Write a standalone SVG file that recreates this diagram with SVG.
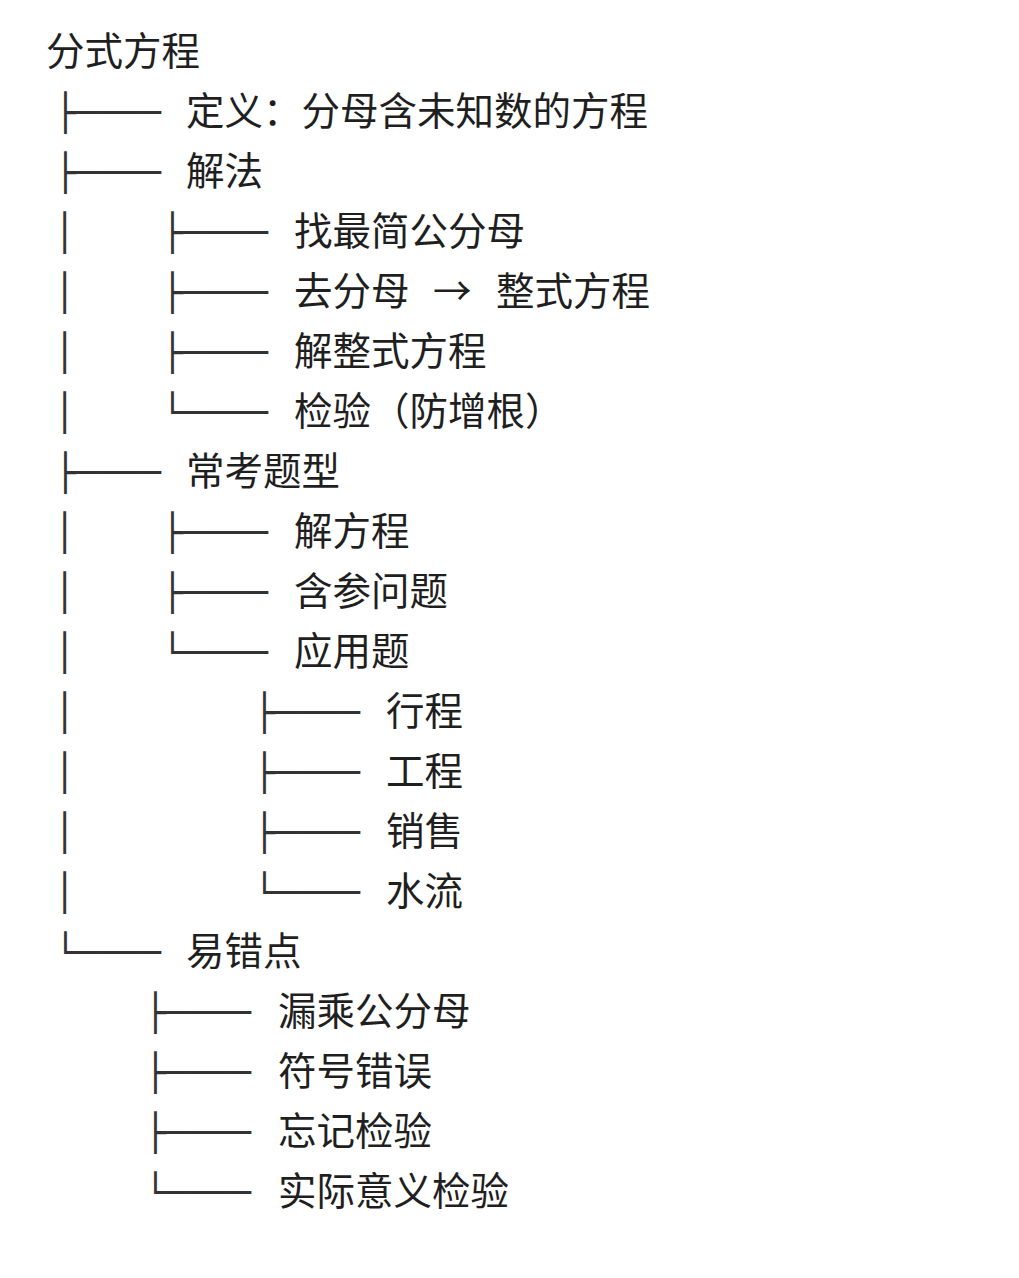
<svg xmlns="http://www.w3.org/2000/svg" width="1019" height="1278" viewBox="0 0 1019 1278">
<style>
.t{font-family:"Noto Sans CJK SC","Noto Sans",sans-serif;font-size:38.5px;fill:#1f1f1f}
.b{font-family:"DejaVu Sans Mono",monospace;font-size:36px;fill:#333}
</style>
<rect width="1019" height="1278" fill="#ffffff"/>
<g id="connectors">
<text class="b" x="55" y="125" textLength="106" lengthAdjust="spacingAndGlyphs">├────</text>
<text class="b" x="55" y="185" textLength="106" lengthAdjust="spacingAndGlyphs">├────</text>
<text class="b" x="55" y="485" textLength="106" lengthAdjust="spacingAndGlyphs">├────</text>
<text class="b" x="55" y="965" textLength="106" lengthAdjust="spacingAndGlyphs">└────</text>
<text class="b" x="54" y="245">│</text><text class="b" x="54" y="305">│</text><text class="b" x="54" y="365">│</text><text class="b" x="54" y="425">│</text>
<text class="b" x="54" y="545">│</text><text class="b" x="54" y="605">│</text><text class="b" x="54" y="665">│</text><text class="b" x="54" y="725">│</text>
<text class="b" x="54" y="785">│</text><text class="b" x="54" y="845">│</text><text class="b" x="54" y="905">│</text>
<text class="b" x="162" y="245" textLength="106" lengthAdjust="spacingAndGlyphs">├────</text>
<text class="b" x="162" y="305" textLength="106" lengthAdjust="spacingAndGlyphs">├────</text>
<text class="b" x="162" y="365" textLength="106" lengthAdjust="spacingAndGlyphs">├────</text>
<text class="b" x="162" y="425" textLength="106" lengthAdjust="spacingAndGlyphs">└────</text>
<text class="b" x="162" y="545" textLength="106" lengthAdjust="spacingAndGlyphs">├────</text>
<text class="b" x="162" y="605" textLength="106" lengthAdjust="spacingAndGlyphs">├────</text>
<text class="b" x="162" y="665" textLength="106" lengthAdjust="spacingAndGlyphs">└────</text>
<text class="b" x="254" y="725" textLength="106" lengthAdjust="spacingAndGlyphs">├────</text>
<text class="b" x="254" y="785" textLength="106" lengthAdjust="spacingAndGlyphs">├────</text>
<text class="b" x="254" y="845" textLength="106" lengthAdjust="spacingAndGlyphs">├────</text>
<text class="b" x="254" y="905" textLength="106" lengthAdjust="spacingAndGlyphs">└────</text>
<text class="b" x="145" y="1025" textLength="106" lengthAdjust="spacingAndGlyphs">├────</text>
<text class="b" x="145" y="1085" textLength="106" lengthAdjust="spacingAndGlyphs">├────</text>
<text class="b" x="145" y="1145" textLength="106" lengthAdjust="spacingAndGlyphs">├────</text>
<text class="b" x="145" y="1205" textLength="106" lengthAdjust="spacingAndGlyphs">└────</text>
</g>
<g id="root"><text class="t" x="46" y="65">分式方程</text></g>
<g id="n1"><text class="t" x="186" y="125">定义：分母含未知数的方程</text></g>
<g id="n2"><text class="t" x="186" y="185">解法</text></g>
<g id="n21"><text class="t" x="294" y="245">找最简公分母</text></g>
<g id="n22"><text class="t" x="294" y="305">去分母</text><text class="t" x="433" y="305">→</text><text class="t" x="496" y="305">整式方程</text></g>
<g id="n23"><text class="t" x="294" y="365">解整式方程</text></g>
<g id="n24"><text class="t" x="294" y="425">检验（防增根）</text></g>
<g id="n3"><text class="t" x="186" y="485">常考题型</text></g>
<g id="n31"><text class="t" x="294" y="545">解方程</text></g>
<g id="n32"><text class="t" x="294" y="605">含参问题</text></g>
<g id="n33"><text class="t" x="294" y="665">应用题</text></g>
<g id="n331"><text class="t" x="386" y="725">行程</text></g>
<g id="n332"><text class="t" x="386" y="785">工程</text></g>
<g id="n333"><text class="t" x="386" y="845">销售</text></g>
<g id="n334"><text class="t" x="386" y="905">水流</text></g>
<g id="n4"><text class="t" x="186" y="965">易错点</text></g>
<g id="n41"><text class="t" x="278" y="1025">漏乘公分母</text></g>
<g id="n42"><text class="t" x="278" y="1085">符号错误</text></g>
<g id="n43"><text class="t" x="278" y="1145">忘记检验</text></g>
<g id="n44"><text class="t" x="278" y="1205">实际意义检验</text></g>
</svg>
